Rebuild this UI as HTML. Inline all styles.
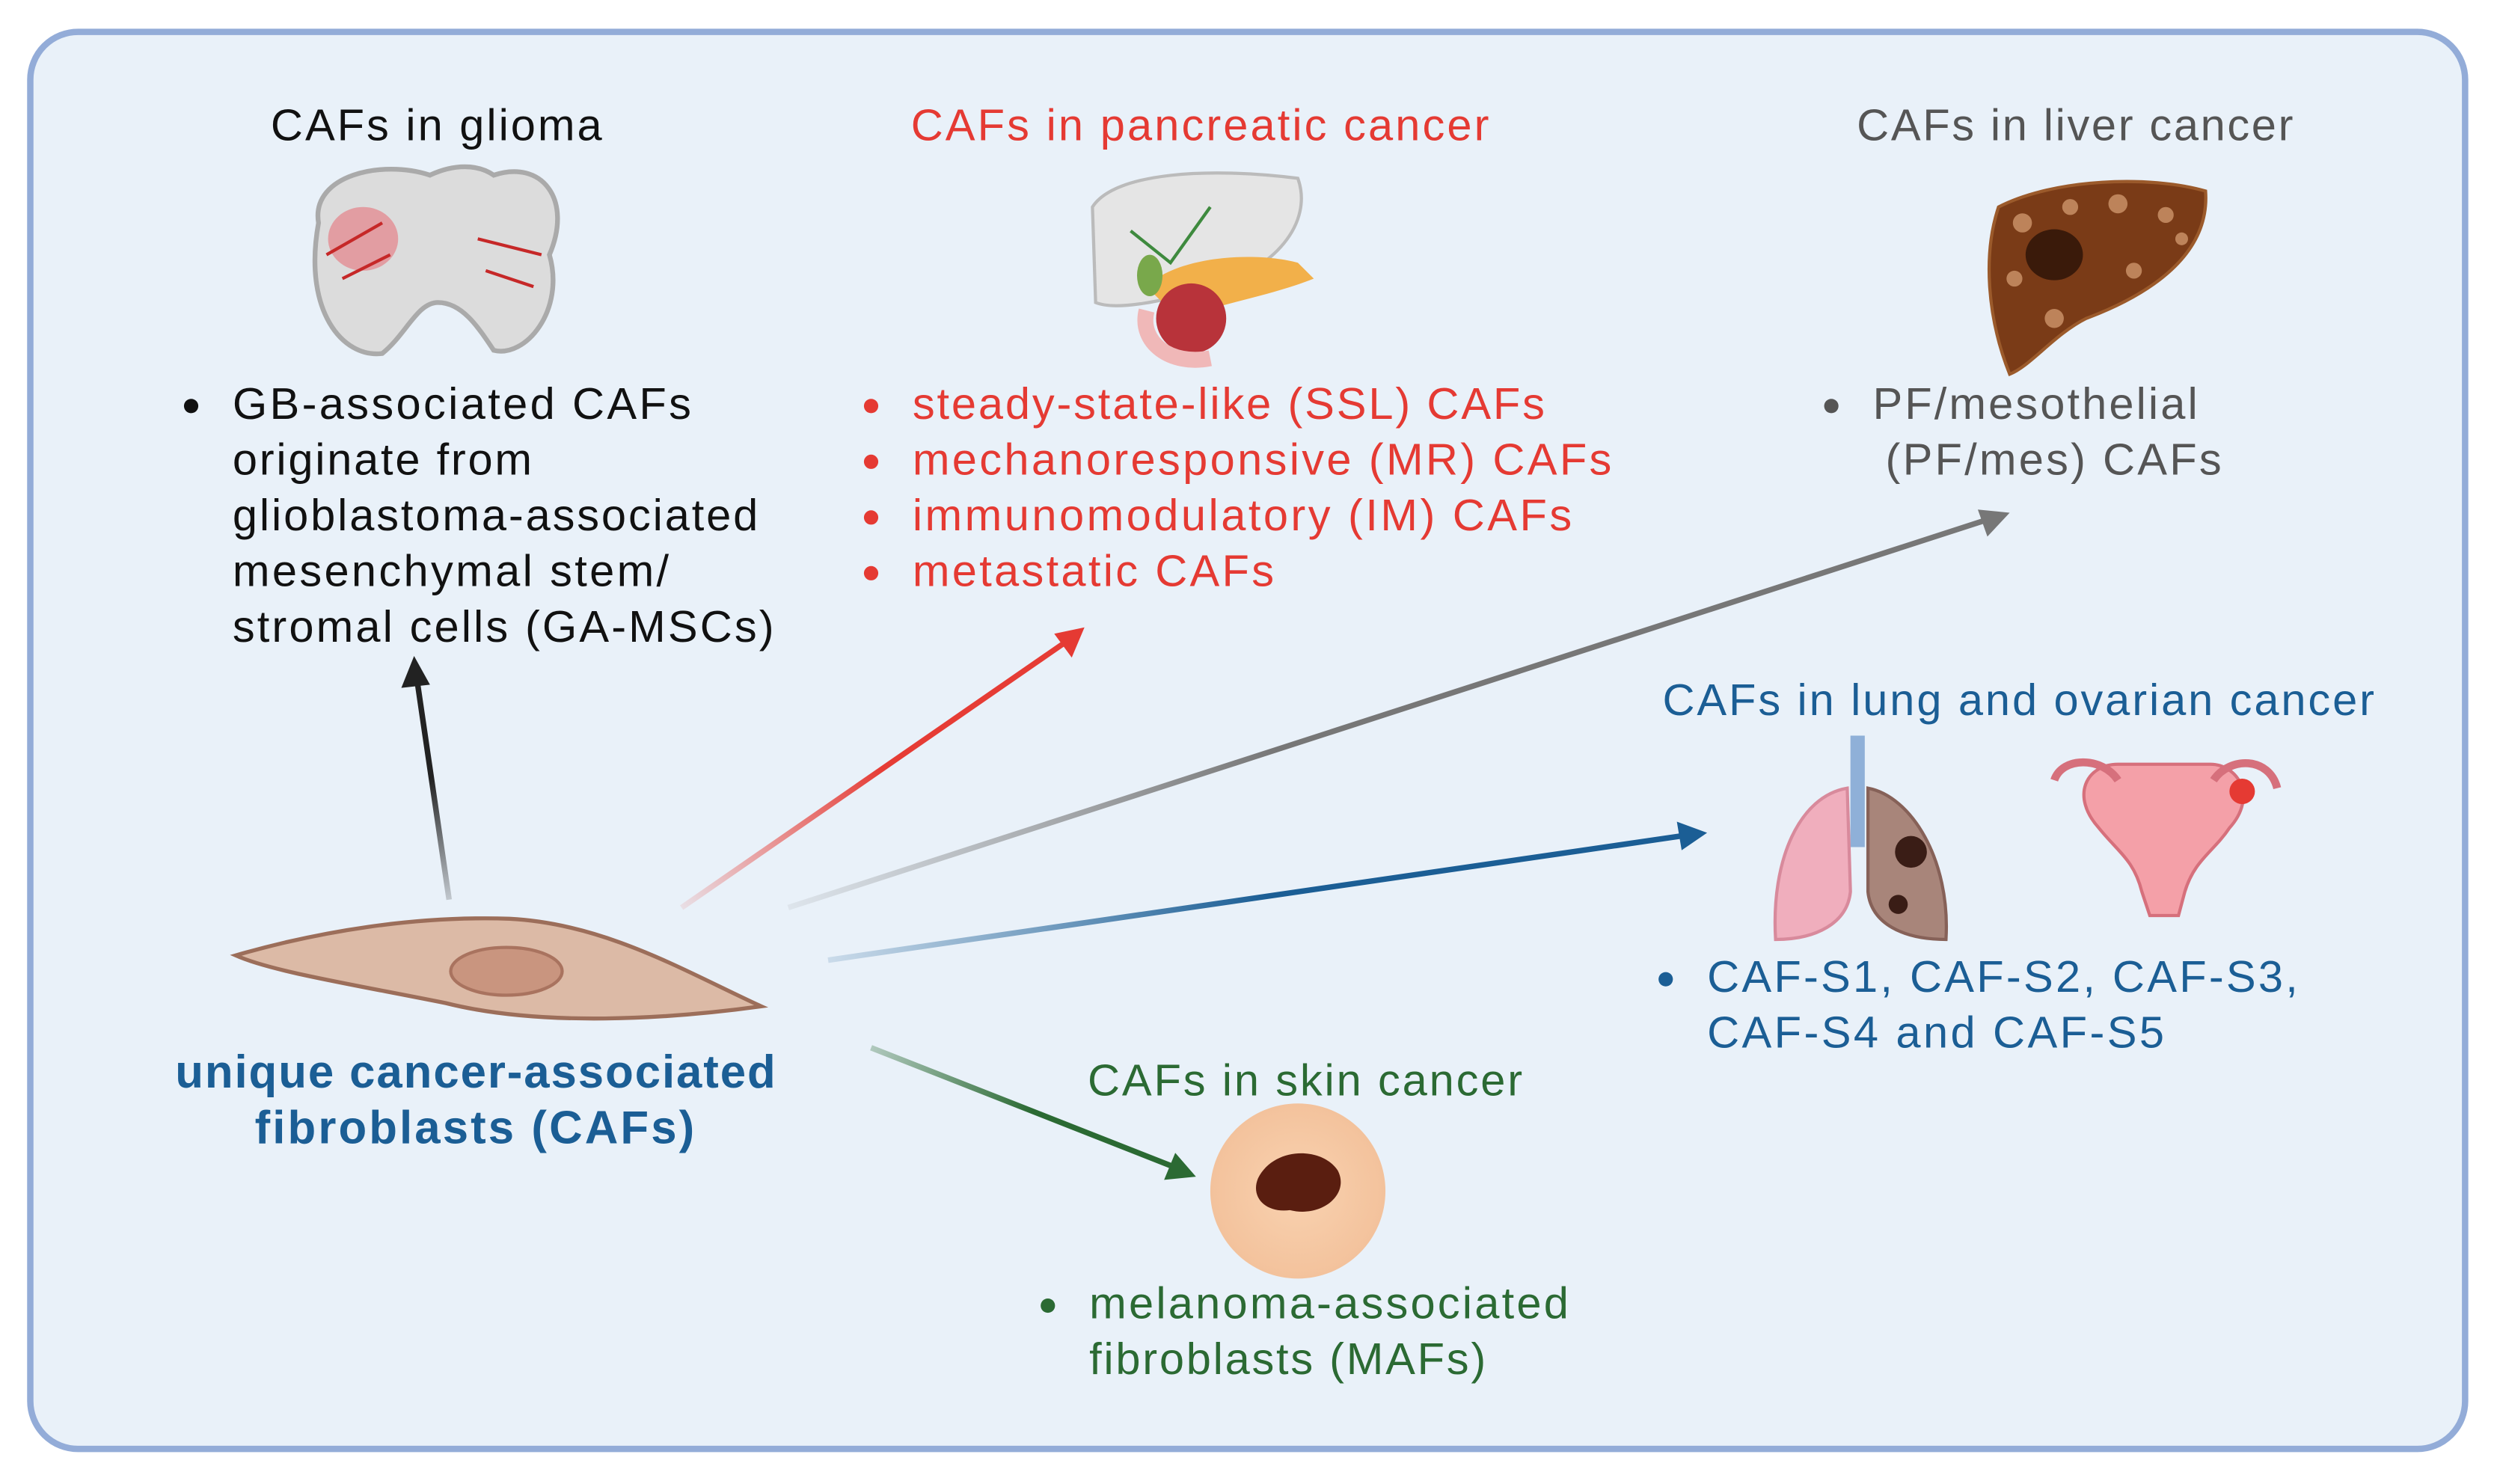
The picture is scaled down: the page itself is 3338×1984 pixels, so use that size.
<!DOCTYPE html>
<html><head><meta charset="utf-8">
<style>
html,body{margin:0;padding:0;background:#fff;}
svg{display:block;}
text{font-family:"Liberation Sans",Arial,sans-serif;}
</style></head>
<body>
<svg width="3338" height="1984" viewBox="0 0 1568 932" xmlns="http://www.w3.org/2000/svg">
<defs>
<linearGradient id="gr" x1="428" y1="570" x2="680" y2="395" gradientUnits="userSpaceOnUse"><stop offset="0" stop-color="#e63c35" stop-opacity="0.1"/><stop offset="0.5" stop-color="#e63c35"/></linearGradient>
<linearGradient id="gg" x1="495" y1="570" x2="1262" y2="322" gradientUnits="userSpaceOnUse"><stop offset="0" stop-color="#777" stop-opacity="0.1"/><stop offset="0.4" stop-color="#777"/></linearGradient>
<linearGradient id="gb" x1="520" y1="603" x2="1072" y2="523" gradientUnits="userSpaceOnUse"><stop offset="0" stop-color="#1b5e95" stop-opacity="0.15"/><stop offset="0.5" stop-color="#1b5e95"/></linearGradient>
<linearGradient id="gk" x1="282" y1="565" x2="260" y2="412" gradientUnits="userSpaceOnUse"><stop offset="0" stop-color="#222" stop-opacity="0.2"/><stop offset="0.5" stop-color="#222"/></linearGradient>
<linearGradient id="gn" x1="547" y1="658" x2="750" y2="738" gradientUnits="userSpaceOnUse"><stop offset="0" stop-color="#2b6a33" stop-opacity="0.3"/><stop offset="0.5" stop-color="#2b6a33"/></linearGradient>
<radialGradient id="skin"><stop offset="0" stop-color="#f9d2b0"/><stop offset="1" stop-color="#f3c29c"/></radialGradient>
</defs>
<rect x="19" y="20" width="1529" height="890" rx="30" fill="#e9f1f9" stroke="#93acd8" stroke-width="4"/>

<g font-size="28" lengthAdjust="spacingAndGlyphs">
<text x="170" y="88" textLength="208" fill="#111">CAFs in glioma</text>
<text x="572" y="88" textLength="363" fill="#e53a33">CAFs in pancreatic cancer</text>
<text x="1166" y="88" textLength="274" fill="#555">CAFs in liver cancer</text>
<text x="1044" y="449" textLength="447" fill="#1b5e95">CAFs in lung and ovarian cancer</text>
<text x="683" y="688" textLength="273" fill="#2b6a33">CAFs in skin cancer</text>

<g fill="#111">
<circle cx="120" cy="255" r="4.5"/>
<text x="146" y="263" textLength="288">GB-associated CAFs</text>
<text x="146" y="298" textLength="188">originate from</text>
<text x="146" y="333" textLength="330">glioblastoma-associated</text>
<text x="146" y="368" textLength="274">mesenchymal stem/</text>
<text x="146" y="403" textLength="340">stromal cells (GA-MSCs)</text>
</g>
<g fill="#e53a33">
<circle cx="547" cy="255" r="4.5"/><text x="573" y="263" textLength="397">steady-state-like (SSL) CAFs</text>
<circle cx="547" cy="290" r="4.5"/><text x="573" y="298" textLength="439">mechanoresponsive (MR) CAFs</text>
<circle cx="547" cy="325" r="4.5"/><text x="573" y="333" textLength="414">immunomodulatory (IM) CAFs</text>
<circle cx="547" cy="360" r="4.5"/><text x="573" y="368" textLength="227">metastatic CAFs</text>
</g>
<g fill="#555">
<circle cx="1150" cy="255" r="4.5"/><text x="1176" y="263" textLength="204">PF/mesothelial</text>
<text x="1184" y="298" textLength="211">(PF/mes) CAFs</text>
</g>
<g fill="#1b5e95">
<circle cx="1046" cy="615" r="4.5"/><text x="1072" y="623" textLength="371">CAF-S1, CAF-S2, CAF-S3,</text>
<text x="1072" y="658" textLength="287">CAF-S4 and CAF-S5</text>
</g>
<g fill="#2b6a33">
<circle cx="658" cy="820" r="4.5"/><text x="684" y="828" textLength="301">melanoma-associated</text>
<text x="684" y="863" textLength="249">fibroblasts (MAFs)</text>
</g>
<g font-size="29" font-weight="bold" fill="#1b5e95">
<text x="110" y="683" textLength="377">unique cancer-associated</text>
<text x="160" y="718" textLength="276">fibroblasts  (CAFs)</text>
</g>
</g>

<g stroke-width="3.5" fill="none">
<line x1="282" y1="565" x2="262" y2="428" stroke="url(#gk)"/>
<line x1="428" y1="570" x2="668" y2="404" stroke="url(#gr)"/>
<line x1="495" y1="570" x2="1246" y2="327" stroke="url(#gg)"/>
<line x1="520" y1="603" x2="1056" y2="525" stroke="url(#gb)"/>
<line x1="547" y1="658" x2="735" y2="732" stroke="url(#gn)"/>
</g>
<polygon points="260,412 252,432 270,430" fill="#222"/>
<polygon points="681,394 662,398 673,413" fill="#e53a33"/>
<polygon points="1262,322 1242,320 1248,337" fill="#777"/>
<polygon points="1072,523 1053,516 1056,534" fill="#1b5e95"/>
<polygon points="751,739 738,724 731,741" fill="#2b6a33"/>

<path d="M148,600 C200,585 260,575 320,577 C380,580 430,610 478,632 C420,640 340,645 280,630 C220,618 170,610 148,600 Z" fill="#dcbaa6" stroke="#9c6e5a" stroke-width="2.5"/>
<ellipse cx="318" cy="610" rx="35" ry="15" fill="#c9957f" stroke="#a9735f" stroke-width="2"/>

<g>
<path d="M200,140 C195,110 240,100 270,110 C285,103 300,103 310,110 C340,100 360,125 345,160 C355,195 330,225 310,220 C300,205 290,190 275,190 C262,190 255,210 240,222 C215,225 190,195 200,140 Z" fill="#dcdcdc" stroke="#aaa" stroke-width="3"/>
<ellipse cx="228" cy="150" rx="22" ry="20" fill="#e38d93" opacity="0.8"/>
<path d="M205,160 L240,140 M300,150 L340,160 M215,175 L245,160 M305,170 L335,180" stroke="#c62828" stroke-width="2"/>
</g>
<g>
<path d="M686,130 C700,108 760,105 815,112 C825,140 800,170 760,180 C730,190 700,195 688,190 Z" fill="#e5e5e5" stroke="#bbb" stroke-width="2"/>
<path d="M720,180 C740,160 790,158 815,165 L825,175 C800,185 770,190 740,200 Z" fill="#f2b04a"/>
<ellipse cx="748" cy="200" rx="22" ry="22" fill="#b8333a"/>
<path d="M720,195 C715,215 735,230 760,225" stroke="#f0b8b8" stroke-width="10" fill="none"/>
<ellipse cx="722" cy="173" rx="8" ry="13" fill="#79a84b"/>
<path d="M710,145 L735,165 L760,130" stroke="#3e8a3e" stroke-width="2" fill="none"/>
</g>
<path d="M1255,130 C1290,112 1350,110 1385,120 C1388,160 1350,185 1310,200 C1290,210 1275,230 1262,235 C1248,200 1245,160 1255,130 Z" fill="#7a3b17" stroke="#9b5a2b" stroke-width="2"/>
<g fill="#c99066" opacity="0.85">
<circle cx="1270" cy="140" r="6"/><circle cx="1300" cy="130" r="5"/><circle cx="1330" cy="128" r="6"/><circle cx="1360" cy="135" r="5"/><circle cx="1265" cy="175" r="5"/><circle cx="1290" cy="200" r="6"/><circle cx="1340" cy="170" r="5"/><circle cx="1370" cy="150" r="4"/>
</g>
<ellipse cx="1290" cy="160" rx="18" ry="16" fill="#3a1a0a"/>
<g>
<rect x="1162" y="462" width="9" height="70" fill="#8fb0d8"/>
<path d="M1160,495 C1130,500 1112,540 1115,590 C1140,590 1160,580 1162,560 Z" fill="#f0aebd" stroke="#d88a9c" stroke-width="2"/>
<path d="M1173,495 C1200,500 1225,540 1222,590 C1195,590 1175,580 1173,560 Z" fill="#a8857a" stroke="#866158" stroke-width="2"/>
<circle cx="1200" cy="535" r="10" fill="#3a1d16"/><circle cx="1192" cy="568" r="6" fill="#3a1d16"/>
</g>
<g>
<path d="M1330,480 C1310,480 1300,500 1318,520 C1330,535 1340,540 1345,560 L1350,575 L1368,575 L1372,560 C1378,540 1390,535 1400,520 C1418,500 1405,480 1388,480 Z" fill="#f4a0a8" stroke="#d6707c" stroke-width="2"/>
<path d="M1290,490 C1295,475 1320,475 1330,490 M1390,490 C1400,475 1425,475 1430,495" stroke="#d6707c" stroke-width="5" fill="none"/>
<circle cx="1408" cy="497" r="8" fill="#e53a33"/>
</g>
<circle cx="815" cy="748" r="55" fill="url(#skin)"/>
<path d="M790,740 C800,720 830,720 840,735 C848,750 830,765 810,760 C795,762 785,752 790,740 Z" fill="#5a1e10"/>
</svg>
</body></html>
